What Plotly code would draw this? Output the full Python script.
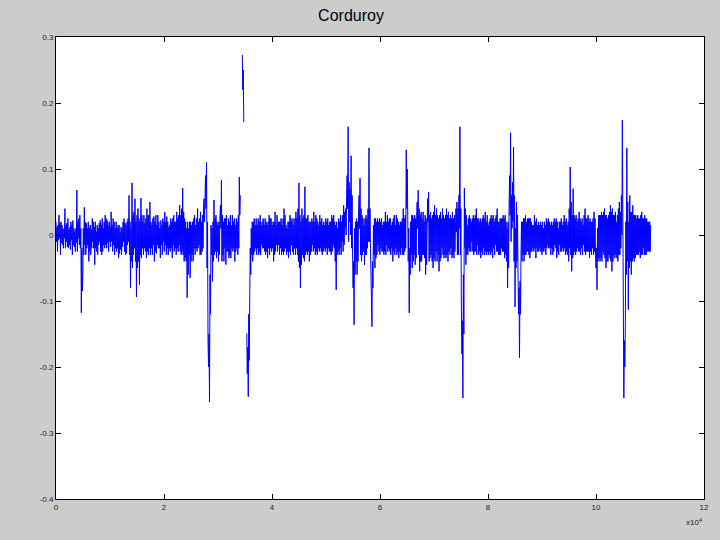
import numpy as np
import plotly.graph_objects as go

# Main peaks of the waveform, in thousandths (None = visible gap).
peaks_milli = [
    20, -25, 30, -30, 15, -20, 40, -10, 25, -15, 20, -30, 10, -25, 68, -5, 30, -118, -60, 42,
    -30, 10, -40, 15, -20, 20, -45, 5, -30, 18, -25, 25, -15, 30, -20, 15, -10, 35, -25, 20,
    -20, 10, -35, 5, -30, 20, -25, 15, -15, 60, -80, 79, -30, 55, -94, 40, -75, 56, -20, 30,
    -25, 40, -30, 50, -20, 25, -40, 30, -15, 20, -35, 15, -10, 35, -30, 20, -20, 25, -35, 30,
    -20, 35, -25, 45, -30, 71, -40, 20, -95, 10, -65, 15, -40, 30, -20, 40, -15, 35, -25, 45,
    60, 110, -160, -253, 15, -70, 53, -25, 20, -40, 30, 83, -30, 25, -45, 15, -35, 30, -20, 20,
    -40, 25, -30, 88, None, 273, 171, None, -149, -245, -90, 10, -40, 25, -20, 15, -30, 30, -15, 25,
    -25, 20, -35, 30, -20, 15, -40, 35, -15, 20, -30, 25, -25, 40, -20, 10, -35, 30, -15, 25,
    -20, 35, -30, 79, -80, 40, -35, 73, -25, 30, -40, 20, -15, 35, -30, 25, -20, 30, -25, 15,
    -20, 25, -30, 15, -25, 30, -15, 20, -83, 10, -30, 30, -10, 45, 10, 60, 164, 20, 120, -30,
    -136, 20, -60, 30, 86, -40, 25, -45, 30, -20, 132, -20, -139, 15, -50, 20, -15, 25, -20, 15,
    -30, 35, -15, 20, -25, 15, -40, 30, -20, 25, -35, 20, -20, 40, -25, 129, 60, -118, 20, -50,
    25, -45, 30, 68, -55, 35, -30, 20, -60, 40, 65, -35, 25, -50, 45, -25, 30, -55, 35, -20,
    30, -30, 40, -40, 25, -20, 35, -35, 20, 50, -30, 164, -110, -247, 71, -45, 15, -20, 25, -10,
    30, -25, 40, -15, 20, -35, 25, -20, 35, -30, 15, -25, 30, -35, 20, -15, 40, -30, 25, -20,
    30, -35, 20, -80, 40, 155, 10, 133, -109, 50, -60, -186, -30, 20, -40, 30, -25, 25, -35, 20,
    -20, 30, -35, 15, -25, 20, -30, 10, -20, 25, -15, 20, -30, 15, -25, 20, -35, 10, -15, 25,
    -20, 30, -30, 15, -40, 103, -55, 70, -25, 30, -20, 35, -30, 25, -15, 40, -25, 30, -35, 20,
    -20, 35, -30, -83, 30, -40, 35, -25, 40, -50, 25, -30, 45, -55, 30, -35, 20, -40, 50, -20,
    174, -247, -136, 132, -113, 60, -60, 45, -40, 30, -30, 25, -35, 35, -20, 30, -30, 20, -25, 15,
]

# Dense inner oscillation between consecutive peaks (two readings per gap), thousandths.
between_milli = [
    # peaks 0-19
    -10, 12, 15, -8, -5, 18, 20, -12, -15, 10, 8, -5, -20, 15, 18, -18, -20, 8, 12, -22,
    -8, 15, 22, -15, -18, 5, 10, -12, -25, 20, 25, -15, -20, 10, -20, -85, 10, -30, -15, 20,
    # peaks 20-39
    18, -20, -15, 20, 10, -25, -30, 8, 25, -10, -20, 12, 20, -20, -25, 15, 10, -15, -10, 22,
    15, -30, -25, 10, 20, -20, -15, 25, 22, -12, -25, 20, 12, -18, -10, 15, 25, -15, -30, 10,
    # peaks 40-59
    20, -25, -20, 15, 15, -28, -22, 12, 10, -18, -10, 25, 18, -30, -28, 20, 25, -10, -30, 20,
    10, -40, -50, 30, 35, -20, -40, 20, 30, -50, -40, 25, 20, -30, -35, 30, 20, -30, -20, 18,
    # peaks 60-79
    25, -35, -25, 30, 30, -20, -30, 20, 15, -30, -15, 28, 20, -25, -28, 15, 30, -20, -20, 10,
    22, -15, -30, 25, 20, -25, -15, 20, 28, -20, -30, 12, 15, -25, -20, 20, 25, -15, -25, 20,
    # peaks 80-99
    20, -30, -20, 25, 30, -15, -25, 30, 40, -25, -30, 35, 25, -35, -40, 10, 20, -60, -30, 20,
    20, -40, -30, 20, 25, -20, -30, 15, 25, -25, -20, 20, 25, -30, -30, 20, 30, -20, 55, 20,
    # peaks 100-119
    90, 40, -50, 20, -200, -150, -60, -120, -30, 10, 20, -40, -30, 25, 30, -35, -25, 15, 20, -30,
    45, 10, -40, 30, 20, -40, -20, 25, 30, -25, -25, 25, 20, -30, -35, 15, 30, -25, -20, 25,
    # peaks 120-139
    15, -25, -20, 20, 30, -20, 30, 60, None, None, 220, 250, None, None, None, None, -210, -170, -120, -190,
    -20, -60, -30, 20, 20, -30, -25, 15, 25, -30, -20, 25, 20, -25, -30, 15, 20, -20, -20, 15,
    # peaks 140-159
    25, -30, -25, 15, 20, -20, -30, 25, 25, -25, -20, 20, 20, -30, -25, 15, 30, -25, -15, 20,
    20, -20, -30, 15, 25, -30, -25, 30, 15, -30, -25, 20, 20, -25, -30, 25, 20, -25, -30, 15,
    # peaks 160-179
    25, -30, -20, 25, 40, -40, -50, 30, 20, -45, -30, 25, 30, -40, -30, 25, 25, -30, -25, 20,
    20, -30, -25, 25, 20, -25, -20, 20, 30, -25, -30, 20, 15, -25, -20, 20, 25, -30, -25, 20,
    # peaks 180-199
    15, -25, -20, 20, 25, -20, -25, 20, 20, -30, -25, 25, 30, -20, -40, 15, 20, -30, -25, 25,
    20, -20, -30, 20, 30, -25, -15, 35, 40, 0, 90, 40, -10, 80, 70, 0, -20, 60, -80, -40,
    # peaks 200-219
    10, -60, -40, 25, 20, -40, 60, 10, -30, 40, 30, -30, -25, 15, 25, -30, -30, 25, 40, -10,
    -10, 40, -80, -50, -40, -80, -30, 25, 25, -35, -30, 25, 20, -25, -30, 20, 25, -25, -25, 20,
    # peaks 220-239
    20, -25, -30, 20, 30, -25, -20, 25, 25, -30, -20, 20, 25, -25, -30, 15, 30, -30, -25, 20,
    15, -25, -30, 20, 25, -30, -30, 25, 30, -20, 40, 100, -40, 10, -20, -60, -30, 30, 30, -40,
    # peaks 240-259
    -30, 30, 25, -35, 50, 10, -30, 40, 30, -40, -40, 25, 35, -30, -35, 30, 25, -45, 55, 20,
    -40, 30, 35, -30, -40, 30, 35, -35, -40, 30, 40, -40, -30, 25, 30, -40, -35, 25, 40, -30,
    # peaks 260-279
    -35, 25, 30, -35, -30, 30, 35, -25, -30, 30, 25, -35, -30, 25, 30, -25, 40, 5, -30, 40,
    60, 10, -30, 40, -180, -130, -60, -150, -20, 40, 30, -30, -30, 25, 30, -25, -25, 20, 25, -25,
    # peaks 280-299
    -30, 25, 30, -25, -30, 25, 25, -30, -25, 25, 20, -25, -30, 30, 25, -30, -25, 20, 30, -25,
    -30, 20, 25, -30, -25, 25, 30, -20, -30, 25, 30, -25, -25, 20, 20, -30, -30, 25, 25, -25,
    # peaks 300-319
    -25, 25, 30, -30, -40, 10, 20, -50, 90, 30, -10, 60, 80, 20, -40, 60, 10, -50, -40, 30,
    -120, -80, -70, -120, 20, -40, -30, 25, 25, -30, -30, 20, 25, -25, -30, 25, 25, -25, -25, 15,
    # peaks 320-339
    15, -25, -20, 20, 25, -20, -25, 20, 15, -20, -25, 15, 20, -25, -25, 20, 15, -30, -20, 20,
    25, -20, -20, 15, 20, -20, -30, 20, 25, -15, -20, 25, 20, -25, -30, 20, 20, -25, -25, 15,
    # peaks 340-359
    20, -25, -20, 20, 25, -25, -30, 20, 40, -20, -30, 50, 30, -35, -30, 30, 25, -30, -25, 20,
    25, -25, -25, 25, 20, -20, -30, 15, 30, -25, -30, 25, 25, -25, -25, 20, 25, -25, -30, 20,
    # peaks 360-379
    25, -30, -25, 25, -50, -20, 10, -40, -35, 30, 30, -35, -40, 30, 35, -30, -35, 30, 30, -40,
    -40, 30, 35, -35, -40, 35, 40, -40, -30, 30, 35, -30, -35, 30, 40, -30, -30, 35, 60, 0,
    # peaks 380-398
    -60, 30, -160, -200, 20, -60, -40, 50, 20, -50, -40, 35, 35, -40, -35, 30, 30, -35, -30, 25,
    30, -30, -25, 25, 30, -30, -30, 25, 25, -30, -30, 25, 25, -25, -25, 20, 20, -25,
]

# Sample spacing of the recording (x axis is sample index, full length about 1.1e5).
sample_step = 92

# Interleave peaks with the inner readings: peak, inner, inner, peak, ...
signal = []
for i, p in enumerate(peaks_milli):
    signal.append(p)
    if i < len(peaks_milli) - 1:
        signal.append(between_milli[2 * i])
        signal.append(between_milli[2 * i + 1])
values = [None if v is None else v / 1000.0 for v in signal]
samples = np.arange(len(values)) * sample_step

x_ticks = [0, 20000, 40000, 60000, 80000, 100000, 120000]
x_tick_labels = ["0", "2", "4", "6", "8", "10", "12"]
y_ticks = [0.3, 0.2, 0.1, 0.0, -0.1, -0.2, -0.3, -0.4]
y_tick_labels = ["0.3", "0.2", "0.1", "0", "-0.1", "-0.2", "-0.3", "-0.4"]

fig = go.Figure()
fig.add_trace(go.Scatter(
    x=samples, y=values, mode="lines",
    line=dict(color="#0000ff", width=1),
    connectgaps=False, showlegend=False, hoverinfo="skip",
))

axis_common = dict(
    showgrid=False, zeroline=False, showline=True, linecolor="black", linewidth=1,
    mirror="ticks", ticks="inside", ticklen=5, tickcolor="black",
    tickfont=dict(family="Liberation Sans, Arial", size=8, color="#222222"),
)
fig.update_xaxes(range=[0, 120000], tickvals=x_ticks, ticktext=x_tick_labels, **axis_common)
fig.update_yaxes(range=[-0.4, 0.3], tickvals=y_ticks, ticktext=y_tick_labels, **axis_common)

fig.add_annotation(
    text="x10<sup>4</sup>", xref="paper", yref="paper", x=1.0, y=-0.035,
    xanchor="right", yanchor="top", showarrow=False,
    font=dict(family="Liberation Sans, Arial", size=8, color="#222222"),
)

fig.update_layout(
    width=720, height=540,
    margin=dict(l=56, r=16, t=37, b=41),
    paper_bgcolor="#cccccc", plot_bgcolor="white",
    title=dict(text="Corduroy", x=0.4875, xanchor="center", y=0.972, yanchor="middle",
               font=dict(family="Liberation Sans, Arial", size=16, color="black")),
)

fig.write_html(
    "out.html",
    config={"displayModeBar": False},
    post_script="document.body.style.margin='0';document.body.style.background='#cccccc';",
)
